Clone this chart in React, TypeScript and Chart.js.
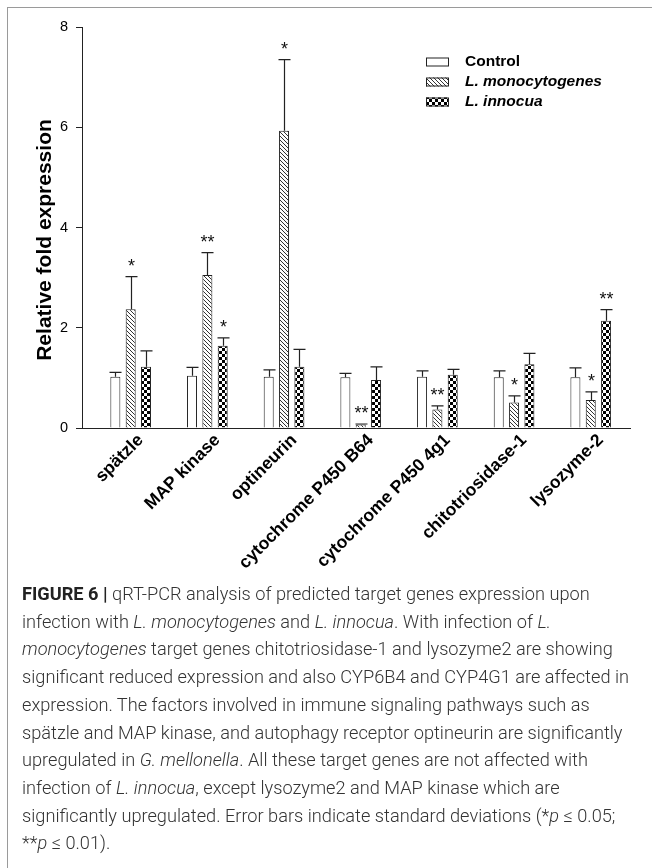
import React, { useEffect, useRef } from 'react';
import { Chart, registerables } from 'chart.js';

Chart.register(...registerables);

const categories = ['spätzle', 'MAP kinase', 'optineurin', 'cytochrome P450 B64', 'cytochrome P450 4g1', 'chitotriosidase-1', 'lysozyme-2'];
const seriesNames = ['Control', 'L. monocytogenes', 'L. innocua'];
const controlMean = [1.02, 1.04, 1.02, 1.01, 1.02, 1.01, 1.01];
const controlSd = [0.09, 0.17, 0.14, 0.08, 0.12, 0.13, 0.19];
const monoMean = [2.37, 3.05, 5.93, 0.07, 0.37, 0.51, 0.56];
const monoSd = [0.65, 0.45, 1.42, 0.01, 0.07, 0.13, 0.16];
const innoMean = [1.22, 1.64, 1.22, 0.96, 1.06, 1.27, 2.14];
const innoSd = [0.32, 0.16, 0.35, 0.26, 0.11, 0.22, 0.22];
const controlSig = ['', '', '', '', '', '', ''];
const monoSig = ['*', '**', '*', '**', '**', '*', '*'];
const innoSig = ['', '*', '', '', '', '', '**'];
const yTickValues = [0, 2, 4, 6, 8];
const yTitle = 'Relative fold expression';

const FONT = "'Liberation Sans', Arial, Helvetica, sans-serif";
const W = 652;
const H = 586;

function makeHatch(): CanvasPattern | string {
  const c = document.createElement('canvas');
  c.width = 4; c.height = 4;
  const g = c.getContext('2d');
  if (!g) return '#fff';
  g.fillStyle = '#fff';
  g.fillRect(0, 0, 4, 4);
  g.strokeStyle = '#333';
  g.lineWidth = 1;
  g.beginPath();
  g.moveTo(-1, -1); g.lineTo(5, 5);
  g.moveTo(3, -1); g.lineTo(5, 1);
  g.moveTo(-1, 3); g.lineTo(1, 5);
  g.stroke();
  const p = g.createPattern(c, 'repeat');
  return p || '#fff';
}

function makeChecker(): CanvasPattern | string {
  const c = document.createElement('canvas');
  c.width = 6; c.height = 6;
  const g = c.getContext('2d');
  if (!g) return '#000';
  g.fillStyle = '#fff';
  g.fillRect(0, 0, 6, 6);
  g.fillStyle = '#000';
  g.fillRect(0, 0, 3, 3);
  g.fillRect(3, 3, 3, 3);
  const p = g.createPattern(c, 'repeat');
  return p || '#000';
}

const means = [controlMean, monoMean, innoMean];
const sds = [controlSd, monoSd, innoSd];
const sigs = [controlSig, monoSig, innoSig];

const extrasPlugin = {
  id: 'extras',
  afterDatasetsDraw(chart: any) {
    const ctx = chart.ctx;
    const yScale = chart.scales.y;
    ctx.save();
    for (let d = 0; d < 3; d++) {
      const meta = chart.getDatasetMeta(d);
      meta.data.forEach((el: any, i: number) => {
        const top = yScale.getPixelForValue(means[d][i] + sds[d][i]);
        const x = Math.round(el.x) + 0.5;
        ctx.strokeStyle = '#222';
        ctx.lineWidth = 1.2;
        ctx.beginPath();
        ctx.moveTo(x, el.y);
        ctx.lineTo(x, top);
        ctx.moveTo(x - 6, top);
        ctx.lineTo(x + 6, top);
        ctx.stroke();
        const s = sigs[d][i];
        if (s) {
          ctx.fillStyle = '#111';
          ctx.font = `18px ${FONT}`;
          ctx.textAlign = 'center';
          ctx.textBaseline = 'alphabetic';
          ctx.fillText(s, x, top - 5);
        }
      });
    }
    ctx.restore();
  },
  afterDraw(chart: any) {
    const ctx = chart.ctx;
    const area = chart.chartArea;
    ctx.save();
    ctx.translate(45, 240);
    ctx.rotate(-Math.PI / 2);
    ctx.font = `bold 21px ${FONT}`;
    ctx.fillStyle = '#000';
    ctx.textAlign = 'center';
    ctx.textBaseline = 'middle';
    ctx.fillText(yTitle, 0, 0);
    ctx.restore();

    ctx.save();
    const lx = area.right - 204;
    const ly = area.top + 35;
    chart.data.datasets.forEach((ds: any, i: number) => {
      const cy = ly + i * 20;
      ctx.fillStyle = ds.backgroundColor;
      ctx.fillRect(lx, cy - 4.5, 23, 9);
      ctx.strokeStyle = '#222';
      ctx.lineWidth = 1;
      ctx.strokeRect(lx + 0.5, cy - 4.5 + 0.5, 22, 8);
      ctx.fillStyle = '#000';
      ctx.font = i === 0 ? `bold 15.5px ${FONT}` : `italic bold 15.5px ${FONT}`;
      ctx.textAlign = 'left';
      ctx.textBaseline = 'middle';
      ctx.fillText(ds.label, lx + 39, cy);
    });
    ctx.restore();
  },
};

function ChartCanvas() {
  const ref = useRef<HTMLCanvasElement | null>(null);
  useEffect(() => {
    if (!ref.current) return;
    const fills = ['#ffffff', makeHatch(), makeChecker()];
    const chart = new Chart(ref.current, {
      type: 'bar',
      data: {
        datasets: means.map((arr, d) => ({
          label: seriesNames[d],
          data: arr.map((v, i) => ({ x: i, y: v })),
          backgroundColor: fills[d] as any,
          borderColor: '#222',
          borderWidth: 1,
          categoryPercentage: 0.6,
          barPercentage: 0.652,
        })),
      },
      options: {
        animation: false,
        responsive: false,
        devicePixelRatio: 1,
        layout: { padding: { top: 27, right: 22, left: 0, bottom: 0 } },
        plugins: { legend: { display: false }, tooltip: { enabled: false } },
        scales: {
          x: {
            type: 'linear',
            min: -0.635,
            max: 6.512,
            offset: false,
            grid: { display: false, drawTicks: false },
            border: { display: true, color: '#222', width: 1 },
            ticks: {
              stepSize: 1,
              includeBounds: false,
              autoSkip: false,
              maxRotation: 45,
              minRotation: 45,
              padding: 2,
              labelOffset: 10,
              color: '#000',
              font: { family: FONT, size: 17.5, weight: 'bold' },
              callback: (v: any) => (Number.isInteger(v) ? categories[v] ?? '' : ''),
            },
            afterFit: (s: any) => { s.height = H - 428; },
          } as any,
          y: {
            min: 0,
            max: 8,
            grid: { display: true, drawOnChartArea: false, drawTicks: true, tickLength: 6, color: '#222' },
            border: { display: true, color: '#222', width: 1 },
            afterBuildTicks: (s: any) => { s.ticks = yTickValues.map((v) => ({ value: v })); },
            ticks: {
              padding: 8,
              color: '#000',
              font: { family: FONT, size: 14.5 },
            },
            afterFit: (s: any) => { s.width = 82; },
          } as any,
        },
      },
      plugins: [extrasPlugin],
    });
    return () => chart.destroy();
  }, []);
  return <canvas ref={ref} width={W} height={H} style={{ width: W, height: H, display: 'block' }} />;
}

const captionLines: React.ReactNode[] = [
  <><b style={{ fontWeight: 700, color: '#222' }}>FIGURE 6 |</b> qRT-PCR analysis of predicted target genes expression upon</>,
  <>infection with <i>L. monocytogenes</i> and <i>L. innocua</i>. With infection of <i>L.</i></>,
  <><i>monocytogenes</i> target genes chitotriosidase-1 and lysozyme2 are showing</>,
  <>significant reduced expression and also CYP6B4 and CYP4G1 are affected in</>,
  <>expression. The factors involved in immune signaling pathways such as</>,
  <>spätzle and MAP kinase, and autophagy receptor optineurin are significantly</>,
  <>upregulated in <i>G. mellonella</i>. All these target genes are not affected with</>,
  <>infection of <i>L. innocua</i>, except lysozyme2 and MAP kinase which are</>,
  <>significantly upregulated. Error bars indicate standard deviations (*<i>p</i> ≤ 0.05;</>,
  <>**<i>p</i> ≤ 0.01).</>,
];

export default function App() {
  return (
    <div style={{ position: 'absolute', left: 0, top: 0, width: W, height: 868, overflow: 'hidden', background: '#fff' }}>
      <div style={{ position: 'absolute', left: 7, top: 7, width: W, height: 880, borderLeft: '1px solid #9a9a9a', borderTop: '1px solid #9a9a9a' }} />
      <div style={{ position: 'absolute', left: 0, top: 0 }}>
        <ChartCanvas />
      </div>
      <div style={{ position: 'absolute', left: 22, top: 580, fontFamily: "Roboto, 'Liberation Sans', sans-serif", fontWeight: 300, fontSize: 18.2, lineHeight: '27.7px', color: '#333' }}>
        {captionLines.map((l, i) => (
          <div key={i} style={{ whiteSpace: 'nowrap' }}>{l}</div>
        ))}
      </div>
    </div>
  );
}
